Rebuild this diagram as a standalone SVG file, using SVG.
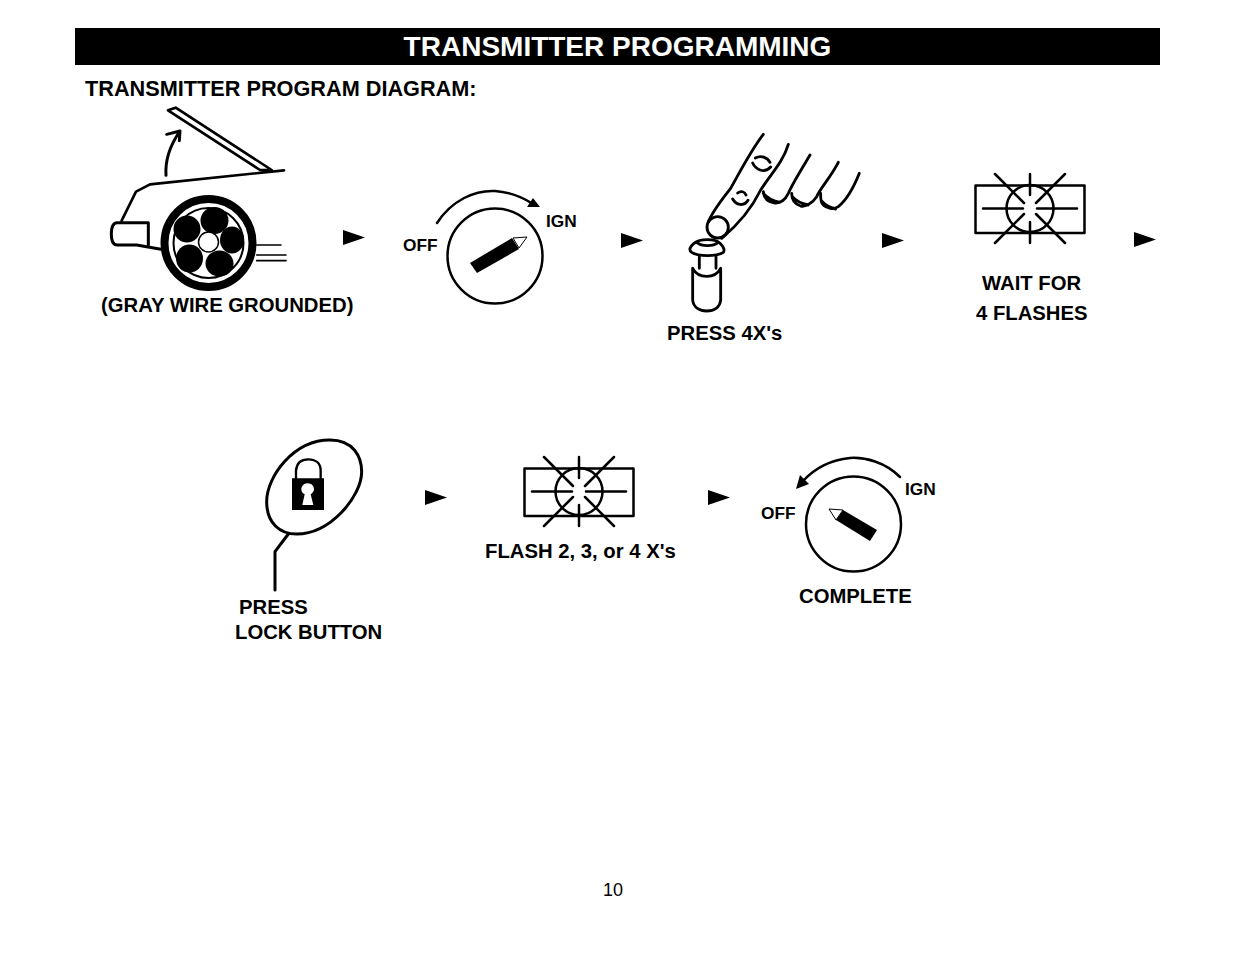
<svg xmlns="http://www.w3.org/2000/svg" xmlns:xlink="http://www.w3.org/1999/xlink" width="1235" height="954" viewBox="0 0 1235 954">
<style>
text{font-family:"Liberation Sans",Arial,sans-serif;font-weight:bold;fill:#000}
.h{font-size:21.700px}.l{font-size:20.300px}.s{font-size:17.300px}
.ln{fill:none;stroke:#000;stroke-width:2.500;stroke-linecap:round;stroke-linejoin:round}
.z{fill:none;stroke:#000;stroke-width:9;stroke-linecap:round;stroke-linejoin:round}
.f{fill:none;stroke:#000;stroke-width:8.500;stroke-linecap:round;stroke-linejoin:round}
.k{fill:#000}
</style>
<defs>
<g id="burst" class="ln">
<rect x="975.500" y="185.500" width="109" height="47.500" stroke-linecap="butt"/>
<circle cx="1030" cy="208.500" r="23.500"/>
<path d="M1030 174V195M1030 222V243M983 208.500H1023M1037 208.500H1077M995 174L1024 203M1065 174L1036 203M1024 214L995 243M1036 214L1065 243"/>
</g>
<path id="tri" d="M0 0L22 7.500L0 15Z"/>
</defs>
<rect id="title-bar" x="75" y="28" width="1085" height="37" fill="#000"/>
<text id="title" x="617.500" y="56" text-anchor="middle" font-size="28" style="fill:#fff">TRANSMITTER PROGRAMMING</text>
<text class="h" x="85" y="96">TRANSMITTER PROGRAM DIAGRAM:</text>

<g id="car">
<g transform="translate(100 100) scale(.33333)">
<path class="z" style="stroke-width:8" d="M204 31L227 23L515 210H480ZM552 211L150 253L108 275L65 362"/>
<path class="z" d="M198 226C195 180 208 140 238 96M200 103L240 93L238 122"/>
<path class="z" d="M145 368H52C38 368 34 385 34 402C34 420 38 435 52 435H110L183 448M145 368V435"/>
<path class="z" style="stroke-width:5" d="M470 435H543M470 465H558M470 482H558"/>
</g>
<circle cx="208.500" cy="243" r="44" fill="#fff" stroke="#000" stroke-width="8"/>
<circle cx="208.500" cy="243" r="35" fill="#fff" stroke="#000" stroke-width="2"/>
<ellipse class="k" cx="214.500" cy="220.500" rx="14" ry="13.500"/>
<ellipse class="k" cx="187" cy="229" rx="13.500" ry="13.500"/>
<ellipse class="k" cx="232" cy="240" rx="12" ry="13.500"/>
<ellipse class="k" cx="189.500" cy="258.500" rx="13.500" ry="14"/>
<ellipse class="k" cx="219.500" cy="263.500" rx="14" ry="13"/>
<circle cx="208.500" cy="242" r="10" fill="#fff" stroke="#000" stroke-width="1.500"/>
<text class="l" x="101" y="312">(GRAY WIRE GROUNDED)</text>
</g>

<g id="key-on">
<circle class="ln" cx="495" cy="256" r="47.500"/>
<path class="ln" d="M437 223C452 200 475 190 495 191C510 192 522 197 533 204"/>
<path class="k" d="M540 207L527 207L533 198Z"/>
<path class="k" d="M470 263L512 238L519 249L477 273Z"/>
<path d="M513 238L527 237L519 248Z" fill="#fff" stroke="#000" stroke-width="1"/>
<text class="s" x="403" y="251">OFF</text>
<text class="s" x="546" y="227">IGN</text>
</g>

<g id="finger">
<g transform="translate(670 125) scale(.33333)">
<path class="f" d="M280 28C240 80 205 150 182 190C150 230 128 260 115 290M355 58C340 110 300 150 272 195C250 240 215 290 155 340"/>
<circle cx="143" cy="307" r="32" fill="#fff" stroke="#000" stroke-width="8.500"/>
<path class="f" d="M256 99C272 90 292 96 300 112M248 114C256 132 282 148 302 126M203 204C213 196 224 200 228 210M188 222C198 240 222 246 234 226"/>
<path class="f" d="M420 90C390 140 365 180 355 205C345 225 330 235 315 234C295 232 282 222 280 200M280 205C295 222 310 228 330 232"/>
<path class="f" d="M505 112C480 160 450 190 440 215C425 238 405 246 392 243C375 238 365 225 365 205M367 215C380 230 395 236 415 240"/>
<path class="f" d="M568 145C550 190 530 225 505 245C490 255 470 250 460 240C450 230 452 215 452 205M455 228C465 240 480 248 497 252"/>
<path class="f" style="fill:#fff" d="M72 355C90 340 135 340 150 355C160 365 165 375 160 382C140 395 85 395 65 382C55 375 60 365 72 355Z"/>
<path class="f" d="M80 352C95 365 130 365 145 352M88 395V430M138 395V430M68 430V525C70 548 90 558 110 558C132 558 150 548 152 525V430M68 430C85 462 135 462 152 430"/>
</g>
<text class="l" x="667" y="340">PRESS 4X's</text>
</g>

<g id="flash-1">
<use href="#burst" xlink:href="#burst"/>
<text class="l" x="982" y="290">WAIT FOR</text>
<text class="l" x="976" y="320">4 FLASHES</text>
</g>

<g id="lock">
<g transform="translate(250 430) scale(.33333)">
<path class="z" d="M50 215C50 140 130 30 240 30C310 30 335 80 335 125C335 200 240 312 140 312C90 312 50 280 50 215ZM115 312L75 365V480"/>
<path class="k" d="M126 145H222V240H126Z"/>
<path class="z" d="M138 145V122C140 98 155 88 175 88C195 88 212 98 212 122V145" style="stroke-width:7"/>
<path d="M173 160C188 160 192 172 192 178C192 186 186 190 182 193L190 225H157L164 193C158 190 154 186 154 178C154 170 160 160 173 160Z" fill="#fff"/>
</g>
<text class="l" x="239" y="614">PRESS</text>
<text class="l" x="235" y="639">LOCK BUTTON</text>
</g>

<g id="flash-2">
<use href="#burst" xlink:href="#burst" transform="translate(-451 283)"/>
<text class="l" x="485" y="558">FLASH 2, 3, or 4 X's</text>
</g>

<g id="key-off">
<circle class="ln" cx="853.500" cy="524" r="47.500"/>
<path class="ln" d="M900 477C885 462 865 457 850 458C830 460 815 468 803 481"/>
<path class="k" d="M796 489L800 475L809 484Z"/>
<path class="k" d="M843 510L877 530L870 541L836 520Z"/>
<path d="M829 509L843 510L836 520Z" fill="#fff" stroke="#000" stroke-width="1"/>
<text class="s" x="761" y="519">OFF</text>
<text class="s" x="905" y="495">IGN</text>
<text class="l" x="799" y="603">COMPLETE</text>
</g>

<g id="connectors">
<use href="#tri" xlink:href="#tri" x="343" y="230"/>
<use href="#tri" xlink:href="#tri" x="621" y="233"/>
<use href="#tri" xlink:href="#tri" x="882" y="233"/>
<use href="#tri" xlink:href="#tri" x="1134" y="232"/>
<use href="#tri" xlink:href="#tri" x="425" y="490"/>
<use href="#tri" xlink:href="#tri" x="708" y="490"/>
</g>
<text x="603" y="896" font-size="18" style="font-weight:normal">10</text>
</svg>
